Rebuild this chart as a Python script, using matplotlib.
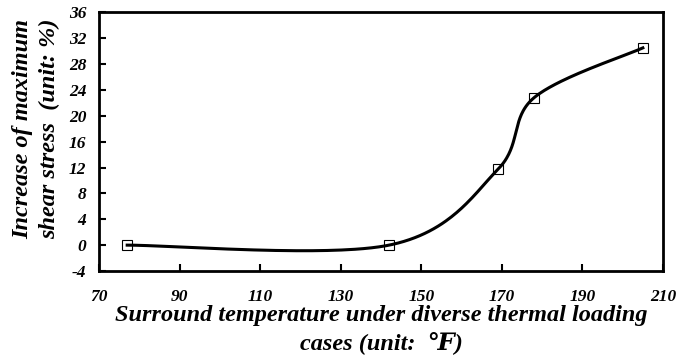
import numpy as np
import matplotlib
matplotlib.use("Agg")
import matplotlib.pyplot as plt

# data
temp = [77, 142, 169, 178, 205]
increase = [0.0, 0.0, 11.7, 22.8, 30.5]

xticks = [70, 90, 110, 130, 150, 170, 190, 210]
yticks = list(range(-4, 37, 4))


def excel_smooth(xs, ys, n=60):
    # Bezier smoothing like a spreadsheet "smoothed line" (tension 1/6)
    p = np.column_stack([xs, ys]).astype(float)
    out = []
    for i in range(len(p) - 1):
        p0 = p[i - 1] if i > 0 else p[i]
        p1 = p[i]
        p2 = p[i + 1]
        p3 = p[i + 2] if i + 2 < len(p) else p[i + 1]
        c1 = p1 + (p2 - p0) / 6
        c2 = p2 - (p3 - p1) / 6
        t = np.linspace(0, 1, n)[:, None]
        seg = ((1 - t) ** 3) * p1 + 3 * t * (1 - t) ** 2 * c1 \
            + 3 * t ** 2 * (1 - t) * c2 + t ** 3 * p2
        out.append(seg if i == 0 else seg[1:])
    out = np.vstack(out)
    return out[:, 0], out[:, 1]


plt.rcParams['font.family'] = ['Liberation Serif', 'DejaVu Serif']
plt.rcParams['font.weight'] = 'bold'
plt.rcParams['font.style'] = 'italic'
plt.rcParams['axes.labelweight'] = 'bold'
plt.rcParams['axes.unicode_minus'] = False

fig = plt.figure(figsize=(6.76, 3.58), dpi=100)
ax = fig.add_axes([99 / 676, 1 - 271 / 358, 564 / 676, 258.7 / 358])

sx, sy = excel_smooth(temp, increase)
ax.plot(sx, sy, color='black', linewidth=2.2, zorder=2)
ax.plot(temp, increase, 's', markersize=7, markerfacecolor='none',
        markeredgecolor='black', markeredgewidth=0.8, zorder=3)

ax.set_xlim(70, 210)
ax.set_ylim(-4, 36)
ax.set_xticks(xticks)
ax.set_yticks(yticks)
ax.tick_params(axis='x', direction='in', length=5, width=1.5, pad=13, labelsize=12.5)
ax.tick_params(axis='y', direction='in', length=5, width=1.5, pad=9, labelsize=12.5)
for lab in ax.get_xticklabels() + ax.get_yticklabels():
    lab.set_fontweight('bold')
    lab.set_fontstyle('italic')
for s in ax.spines.values():
    s.set_linewidth(2)

ax.set_xlabel("Surround temperature under diverse thermal loading\ncases (unit:  \u2109)",
              fontsize=17.5, fontweight='bold', linespacing=1.3)
ax.xaxis.set_label_coords(0.5, -0.13, transform=ax.transAxes)
ax.xaxis.label.set_va('top')

ax.set_ylabel("Increase of maximum\nshear stress  (unit: %)", fontsize=17.5,
              fontweight='bold', linespacing=1.35)
ax.yaxis.set_label_coords(-0.112, 0.549)
ax.yaxis.label.set_va('center')

fig.savefig("out.png", dpi=100)
